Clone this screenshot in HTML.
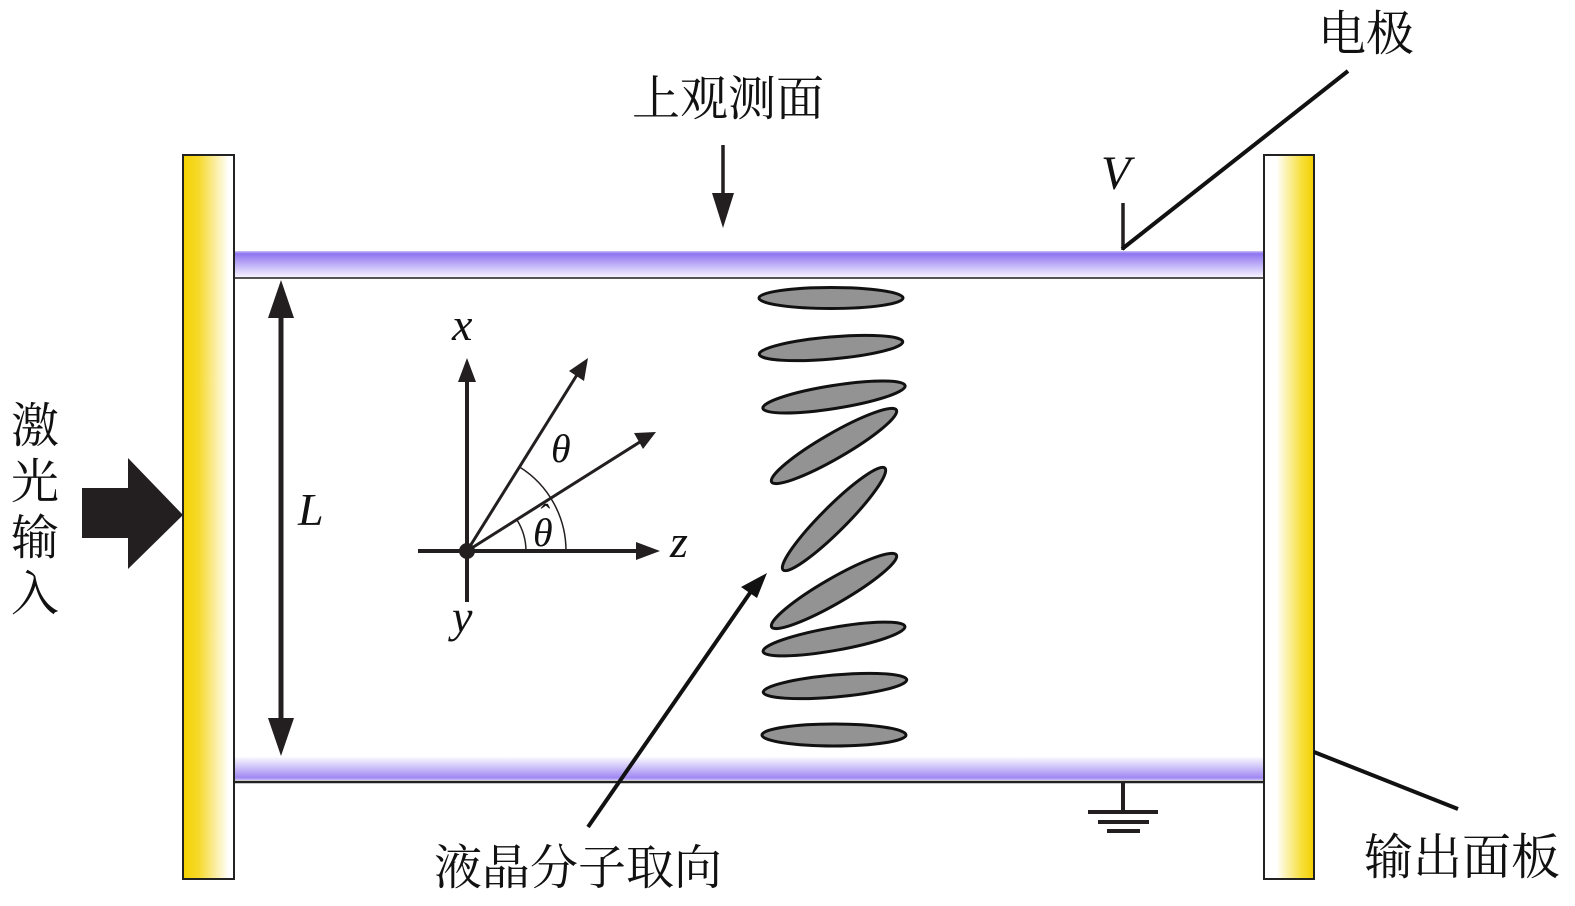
<!DOCTYPE html>
<html>
<head>
<meta charset="utf-8">
<style>
html,body{margin:0;padding:0;background:#fff;}
svg{display:block;}
.cjk{font-family:"Liberation Serif","Noto Serif CJK SC","Noto Sans CJK SC",serif;fill:#111;}
.math{font-family:"Liberation Serif","DejaVu Serif",serif;font-style:italic;fill:#111;}
</style>
</head>
<body>
<svg width="1575" height="906" viewBox="0 0 1575 906" xmlns="http://www.w3.org/2000/svg">
<defs>
  <linearGradient id="lp" x1="0" y1="0" x2="1" y2="0">
    <stop offset="0" stop-color="#f4d200"/>
    <stop offset="0.3" stop-color="#f6d92a"/>
    <stop offset="0.9" stop-color="#ffffff"/>
    <stop offset="1" stop-color="#ffffff"/>
  </linearGradient>
  <linearGradient id="rp" x1="0" y1="0" x2="1" y2="0">
    <stop offset="0" stop-color="#ffffff"/>
    <stop offset="0.25" stop-color="#ffffff"/>
    <stop offset="0.75" stop-color="#f7df3a"/>
    <stop offset="1" stop-color="#f3d000"/>
  </linearGradient>
  <linearGradient id="tb" x1="0" y1="0" x2="0" y2="1">
    <stop offset="0" stop-color="#cfc4f8"/>
    <stop offset="0.1" stop-color="#8e74f0"/>
    <stop offset="1" stop-color="#f6f3ff"/>
  </linearGradient>
  <linearGradient id="bb" x1="0" y1="0" x2="0" y2="1">
    <stop offset="0" stop-color="#fbfaff"/>
    <stop offset="0.9" stop-color="#a088f3"/>
    <stop offset="1" stop-color="#c9bcf7"/>
  </linearGradient>
</defs>

<!-- purple bars -->
<rect x="234" y="251" width="1030" height="26" fill="url(#tb)"/>
<line x1="234" y1="278" x2="1264" y2="278" stroke="#555" stroke-width="2"/>
<rect x="234" y="757" width="1030" height="23" fill="url(#bb)"/>
<line x1="234" y1="782" x2="1264" y2="782" stroke="#222" stroke-width="2.5"/>

<!-- plates -->
<rect x="183" y="155" width="51" height="724" fill="url(#lp)" stroke="#222" stroke-width="2"/>
<rect x="1264" y="155" width="50" height="724" fill="url(#rp)" stroke="#222" stroke-width="2"/>

<!-- laser input arrow -->
<polygon points="82,488 128,488 128,458 183,515 128,569 128,538 82,538" fill="#231f20"/>
<text class="cjk" font-size="48" x="11" y="442">激</text>
<text class="cjk" font-size="48" x="11" y="498">光</text>
<text class="cjk" font-size="48" x="11" y="554">输</text>
<text class="cjk" font-size="48" x="11" y="610">入</text>

<!-- L double arrow -->
<line x1="281" y1="310" x2="281" y2="726" stroke="#231f20" stroke-width="5"/>
<polygon points="281,280 268,318 294,318" fill="#231f20"/>
<polygon points="281,756 268,718 294,718" fill="#231f20"/>
<text class="math" font-size="46" x="298" y="525">L</text>

<!-- observation arrow -->
<text class="cjk" font-size="48" x="632" y="115">上观测面</text>
<line x1="723" y1="145" x2="723" y2="200" stroke="#231f20" stroke-width="3.5"/>
<polygon points="723,228 712,193 734,193" fill="#231f20"/>

<!-- electrode -->
<text class="math" font-size="48" x="1101" y="189">V</text>
<line x1="1123" y1="203" x2="1123" y2="250" stroke="#231f20" stroke-width="3.5"/>
<line x1="1122" y1="249" x2="1348" y2="71" stroke="#111" stroke-width="4"/>
<text class="cjk" font-size="48" x="1318" y="50">电极</text>

<!-- ground -->
<line x1="1123" y1="782" x2="1123" y2="812" stroke="#231f20" stroke-width="4"/>
<line x1="1088" y1="812" x2="1158" y2="812" stroke="#231f20" stroke-width="4"/>
<line x1="1098" y1="822" x2="1149" y2="822" stroke="#231f20" stroke-width="4"/>
<line x1="1107" y1="831" x2="1140" y2="831" stroke="#231f20" stroke-width="4"/>

<!-- output panel label -->
<line x1="1314" y1="752" x2="1458" y2="809" stroke="#111" stroke-width="4"/>
<text class="cjk" font-size="49" x="1364" y="874">输出面板</text>

<!-- coordinate system -->
<g stroke="#231f20" fill="none">
  <line x1="467" y1="602" x2="467" y2="380" stroke-width="4"/>
  <line x1="418" y1="551" x2="640" y2="551" stroke-width="4"/>
  <line x1="467" y1="551" x2="580" y2="370" stroke-width="3"/>
  <line x1="467" y1="551" x2="643" y2="440" stroke-width="3"/>
  <path d="M566,551 A99,99 0 0 0 519.6,467" stroke-width="1.5"/>
  <path d="M526,551 A59,59 0 0 0 517,520" stroke-width="1.5"/>
</g>
<polygon points="467,358 458,382 476,382" fill="#231f20"/>
<polygon points="660,551 636,542 636,560" fill="#231f20"/>
<polygon points="588,358 569,371 584,381" fill="#231f20"/>
<polygon points="656,432 634,433 643,449" fill="#231f20"/>
<circle cx="467" cy="551" r="8" fill="#231f20"/>
<text class="math" font-size="46" x="452" y="340">x</text>
<text class="math" font-size="46" x="670" y="557">z</text>
<text class="math" font-size="46" x="452" y="632">y</text>
<text class="math" font-size="40" x="551" y="462">θ</text>
<text class="math" font-size="40" x="533" y="546">θ</text>
<text class="math" font-size="32" x="538" y="526" font-style="normal">ˆ</text>

<!-- liquid crystal molecules -->
<g fill="#939393" stroke="#111" stroke-width="3">
  <ellipse cx="831" cy="298" rx="72" ry="10.5"/>
  <ellipse cx="831" cy="348" rx="72" ry="11" transform="rotate(-5 831 348)"/>
  <ellipse cx="834" cy="397" rx="72" ry="11.5" transform="rotate(-9 834 397)"/>
  <ellipse cx="834" cy="446" rx="72" ry="12.5" transform="rotate(-30 834 446)"/>
  <ellipse cx="834" cy="519" rx="72" ry="12.5" transform="rotate(-45 834 519)"/>
  <ellipse cx="834" cy="591" rx="72" ry="12.5" transform="rotate(-30 834 591)"/>
  <ellipse cx="834" cy="639" rx="72" ry="11.5" transform="rotate(-10 834 639)"/>
  <ellipse cx="835" cy="686" rx="72" ry="11" transform="rotate(-5 835 686)"/>
  <ellipse cx="834" cy="735" rx="72" ry="11"/>
</g>

<!-- LC orientation arrow -->
<line x1="588" y1="827" x2="752" y2="590" stroke="#111" stroke-width="4"/>
<polygon points="767,573 741,587 757,598" fill="#111"/>
<text class="cjk" font-size="48" x="434" y="884">液晶分子取向</text>
</svg>
</body>
</html>
